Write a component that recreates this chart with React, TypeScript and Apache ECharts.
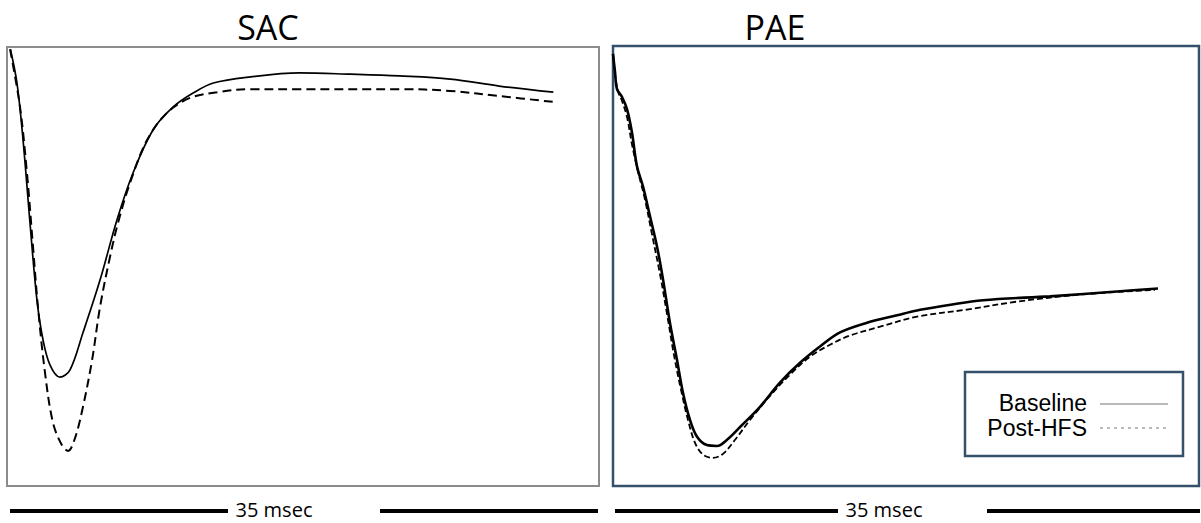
import React, { useEffect, useRef } from "react";
import * as echarts from "echarts";

// x in ms (0..35 across each panel), y in relative amplitude (0 top, -100 bottom)
const sacBaselineX = [0.2, 0.59, 0.95, 1.36, 1.77, 2.13, 2.54, 3.13, 3.72, 4.49, 5.5, 6.5, 7.45, 8.63, 9.81, 11.0, 12.2, 14.4, 17.3, 20.3, 23.2, 26.2, 29.1, 32.3];
const sacBaselineY = [-0.5, -8.2, -21.2, -40.1, -57.6, -66.7, -72.4, -75.2, -73.6, -65.1, -53.1, -39.4, -28.7, -18.9, -13.7, -10.5, -8.2, -6.8, -5.9, -6.2, -6.6, -7.3, -8.9, -10.3];

const sacPostX = [0.18, 0.77, 1.18, 1.54, 1.83, 2.25, 2.72, 3.25, 3.61, 4.02, 4.49, 5.03, 5.5, 6.09, 6.56, 7.27, 8.28, 9.46, 10.82, 12.42, 14.37, 17.32, 23.23, 26.19, 29.15, 32.28];
const sacPostY = [-0.5, -13.7, -28.7, -45.6, -59.2, -74.3, -85.6, -90.7, -92.0, -89.1, -82.0, -71.3, -59.2, -47.8, -40.1, -31.0, -21.2, -15.0, -11.6, -10.3, -9.6, -9.6, -9.6, -10.0, -11.2, -12.5];

const paeBaselineX = [0, 0.12, 0.24, 0.54, 0.84, 1.13, 1.43, 1.79, 2.21, 2.63, 2.99, 3.4, 3.82, 4.18, 4.6, 5.02, 5.61, 6.21, 6.81, 7.59, 8.78, 9.97, 11.17, 12.36, 13.56, 15.17, 16.96, 18.16, 22.1, 26.1, 30.1, 32.55];
const paeBaselineY = [-1.8, -5.9, -9.8, -11.6, -14.4, -19.6, -27.3, -31.9, -38.7, -45.6, -53.1, -62.9, -71.3, -78.8, -85.0, -88.8, -90.7, -90.9, -89.5, -86.6, -82.0, -76.5, -72.0, -68.3, -65.1, -62.9, -61.2, -60.1, -57.8, -56.9, -55.8, -55.1];

const paePostX = [0, 0.12, 0.3, 0.54, 0.84, 1.13, 1.49, 1.91, 2.33, 2.81, 3.23, 3.64, 4.06, 4.48, 4.9, 5.38, 5.97, 6.57, 7.29, 8.18, 9.38, 10.57, 11.77, 12.96, 14.16, 15.95, 18.16, 21.14, 24.13, 27.89, 32.37];
const paePostY = [-1.8, -6.4, -10.3, -12.5, -16.2, -22.3, -28.5, -34.9, -42.8, -51.9, -61.0, -70.2, -78.1, -85.0, -90.2, -92.9, -93.6, -92.7, -89.5, -85.0, -79.5, -74.7, -70.6, -67.9, -65.8, -63.8, -61.5, -59.9, -58.1, -56.5, -55.4];

const panelTitles = ["SAC", "PAE"];
const seriesNames = ["Baseline", "Post-HFS"];
const scaleLabel = "35 msec";

const zip = (xs: number[], ys: number[]) => xs.map((x, i) => [x, ys[i]]);

export default function App() {
  const ref = useRef<HTMLDivElement>(null);
  useEffect(() => {
    if (!ref.current) return;
    const chart = echarts.init(ref.current, null, { renderer: "svg" });
    const titleFont = { fontFamily: "Open Sans", fontSize: 34, fill: "#000" };
    const scaleFont = { fontFamily: "Open Sans", fontSize: 20, fill: "#000" };
    const legFont = { fontFamily: "Liberation Sans", fontSize: 23, fill: "#000" };
    chart.setOption({
      animation: false,
      backgroundColor: "#fff",
      grid: [
        { left: 7, top: 47, width: 592, height: 439, show: true, borderColor: "#8c8c8c", borderWidth: 2, backgroundColor: "#fff" },
        { left: 613, top: 46, width: 586, height: 440, show: true, borderColor: "#34506b", borderWidth: 2.5, backgroundColor: "#fff" },
      ],
      xAxis: [
        { type: "value", gridIndex: 0, min: 0, max: 35, show: false },
        { type: "value", gridIndex: 1, min: 0, max: 35, show: false },
      ],
      yAxis: [
        { type: "value", gridIndex: 0, min: -100, max: 0, show: false },
        { type: "value", gridIndex: 1, min: -100, max: 0, show: false },
      ],
      series: [
        { name: seriesNames[0], type: "line", xAxisIndex: 0, yAxisIndex: 0, data: zip(sacBaselineX, sacBaselineY), showSymbol: false, smooth: 0.35, lineStyle: { color: "#000", width: 1.7 } },
        { name: seriesNames[1], type: "line", xAxisIndex: 0, yAxisIndex: 0, data: zip(sacPostX, sacPostY), showSymbol: false, smooth: 0.35, lineStyle: { color: "#000", width: 2, type: [9, 5] } },
        { name: seriesNames[0], type: "line", xAxisIndex: 1, yAxisIndex: 1, data: zip(paeBaselineX, paeBaselineY), showSymbol: false, smooth: 0.35, lineStyle: { color: "#000", width: 2.6 } },
        { name: seriesNames[1], type: "line", xAxisIndex: 1, yAxisIndex: 1, data: zip(paePostX, paePostY), showSymbol: false, smooth: 0.35, lineStyle: { color: "#000", width: 1.8, type: [6, 3] } },
      ],
      graphic: [
        { type: "text", x: 268, y: 10, style: { ...titleFont, text: panelTitles[0], textAlign: "center", textVerticalAlign: "top" } },
        { type: "text", x: 775, y: 10, style: { ...titleFont, text: panelTitles[1], textAlign: "center", textVerticalAlign: "top" } },
        // scale bars
        { type: "line", shape: { x1: 10, y1: 511, x2: 228, y2: 511 }, style: { stroke: "#000", lineWidth: 4 } },
        { type: "text", x: 274, y: 509, style: { ...scaleFont, text: scaleLabel, textAlign: "center", textVerticalAlign: "middle" } },
        { type: "line", shape: { x1: 380, y1: 511, x2: 598, y2: 511 }, style: { stroke: "#000", lineWidth: 4 } },
        { type: "line", shape: { x1: 615, y1: 511, x2: 838, y2: 511 }, style: { stroke: "#000", lineWidth: 4 } },
        { type: "text", x: 884, y: 509, style: { ...scaleFont, text: scaleLabel, textAlign: "center", textVerticalAlign: "middle" } },
        { type: "line", shape: { x1: 987, y1: 511, x2: 1200, y2: 511 }, style: { stroke: "#000", lineWidth: 4 } },
        // legend
        { type: "rect", shape: { x: 965, y: 372, width: 218, height: 84 }, style: { fill: "#fff", stroke: "#34506b", lineWidth: 2.5 } },
        { type: "text", x: 1087, y: 403, style: { ...legFont, text: seriesNames[0], textAlign: "right", textVerticalAlign: "middle" } },
        { type: "text", x: 1087, y: 428, style: { ...legFont, text: seriesNames[1], textAlign: "right", textVerticalAlign: "middle" } },
        { type: "line", shape: { x1: 1100, y1: 404, x2: 1168, y2: 404 }, style: { stroke: "#777", lineWidth: 1.2 } },
        { type: "line", shape: { x1: 1100, y1: 428, x2: 1168, y2: 428 }, style: { stroke: "#777", lineWidth: 1, lineDash: [3, 4] } },
      ],
    });
    return () => chart.dispose();
  }, []);
  return <div ref={ref} style={{ position: "fixed", left: 0, top: 0, width: 1201, height: 523 }} />;
}
